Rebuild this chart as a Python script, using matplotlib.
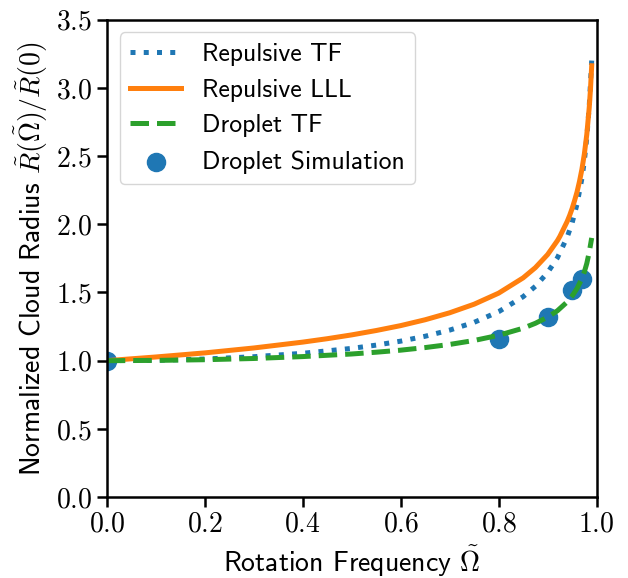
import matplotlib
matplotlib.use('Agg')
import matplotlib.pyplot as plt

# values
omega_lll = [0.0, 0.1, 0.2, 0.3, 0.4, 0.45, 0.5, 0.55, 0.6, 0.65, 0.7, 0.75, 0.8, 0.85,
             0.875, 0.9, 0.92, 0.925, 0.94, 0.945, 0.95, 0.955, 0.96, 0.965, 0.97,
             0.975, 0.98, 0.985, 0.9875, 0.99]
radius_lll = [1.000, 1.027, 1.057, 1.093, 1.136, 1.161, 1.189, 1.221, 1.257, 1.300, 1.351,
              1.414, 1.495, 1.607, 1.682, 1.778, 1.880, 1.911, 2.021, 2.065, 2.115, 2.173,
              2.236, 2.313, 2.403, 2.515, 2.659, 2.857, 2.990, 3.162]

omega_tf = [0.0, 0.1, 0.2, 0.3, 0.4, 0.5, 0.55, 0.6, 0.65, 0.7, 0.75, 0.8, 0.85, 0.875,
            0.9, 0.92, 0.94, 0.95, 0.96, 0.97, 0.975, 0.98, 0.985, 0.99]
radius_repulsive_tf = [1.000, 1.003, 1.012, 1.029, 1.054, 1.090, 1.114, 1.143, 1.179, 1.224,
                       1.281, 1.359, 1.469, 1.545, 1.646, 1.754, 1.906, 2.010, 2.147, 2.336,
                       2.466, 2.635, 2.870, 3.200]
radius_droplet_tf = [1.000, 1.002, 1.007, 1.016, 1.030, 1.049, 1.062, 1.077, 1.096, 1.119,
                     1.148, 1.186, 1.238, 1.274, 1.319, 1.366, 1.431, 1.474, 1.529, 1.602,
                     1.651, 1.713, 1.796, 1.900]

omega_sim = [0.0, 0.8, 0.9, 0.95, 0.97]
radius_sim = [1.00, 1.16, 1.32, 1.52, 1.60]

plt.rcParams['font.family'] = 'cmr10'
plt.rcParams['mathtext.fontset'] = 'cm'
plt.rcParams['axes.unicode_minus'] = False
plt.rcParams['axes.formatter.use_mathtext'] = True

fig = plt.figure(figsize=(6.28, 5.78), dpi=100)
ax = fig.add_axes([0.170, 0.140, 0.780, 0.826])

ax.plot(omega_tf, radius_repulsive_tf, ':', color='C0', lw=3.6, label='Repulsive TF')
ax.plot(omega_lll, radius_lll, '-', color='C1', lw=3.6, label='Repulsive LLL')
ax.plot(omega_tf, radius_droplet_tf, '--', color='C2', lw=3.6, label='Droplet TF')
ax.scatter(omega_sim, radius_sim, s=170, color='C0', zorder=1.5, label='Droplet Simulation')

ax.set_xlim(0, 1.0)
ax.set_ylim(0, 3.5)
ax.tick_params(labelsize=20, length=7, width=1.8)
for sp in ax.spines.values():
    sp.set_linewidth(1.8)

ax.set_xlabel(r'Rotation Frequency $\tilde{\Omega}$', fontsize=20, family='cmss10')
ax.set_ylabel(r'Normalized Cloud Radius $\tilde{R}(\tilde{\mathit{\Omega}})/\tilde{R}(0)$',
              fontsize=20, family='cmss10')

ax.legend(loc='upper left', prop={'family': 'cmss10', 'size': 18.5})

fig.savefig('out.png', dpi=100)
